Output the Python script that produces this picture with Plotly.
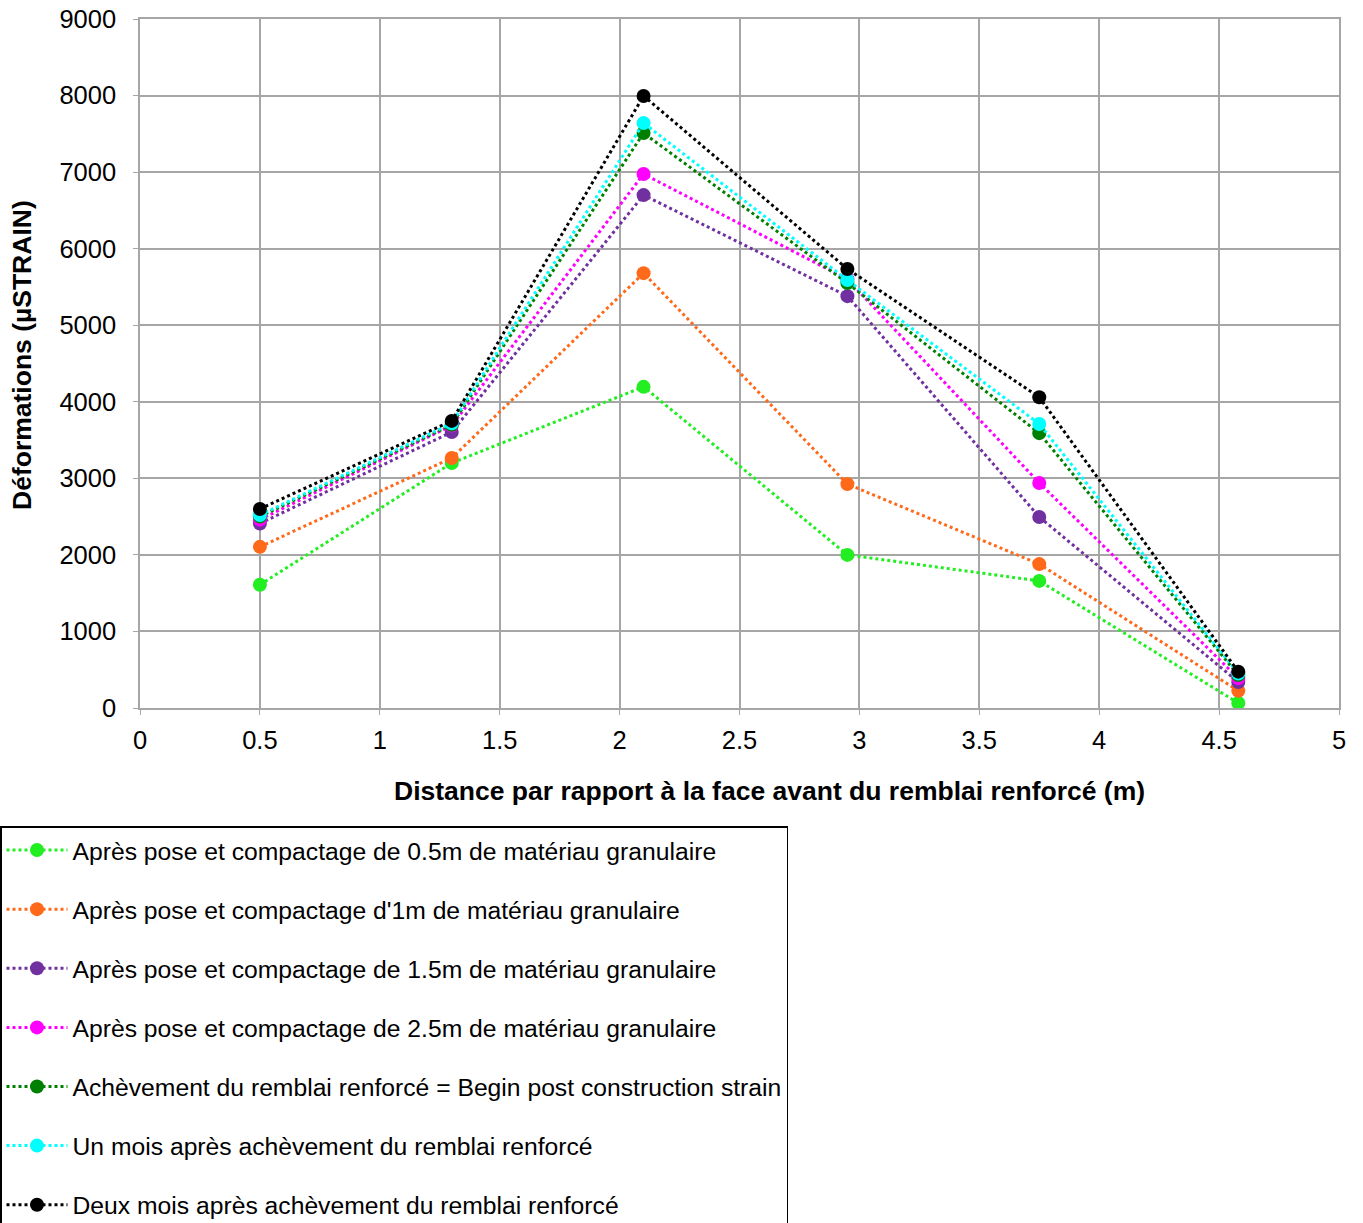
import plotly.graph_objects as go

x_dist = [0.5, 1.3, 2.1, 2.95, 3.75, 4.58]

series_names = [
    "Après pose et compactage de 0.5m de matériau granulaire",
    "Après pose et compactage d'1m de matériau granulaire",
    "Après pose et compactage de 1.5m de matériau granulaire",
    "Après pose et compactage de 2.5m de matériau granulaire",
    "Achèvement du remblai renforcé = Begin post construction strain",
    "Un mois après achèvement du remblai renforcé",
    "Deux mois après achèvement du remblai renforcé",
]

s_05m = [1610, 3200, 4195, 2000, 1660, 65]
s_1m = [2105, 3265, 5680, 2925, 1880, 225]
s_15m = [2410, 3605, 6700, 5380, 2495, 340]
s_25m = [2460, 3690, 6975, 5600, 2940, 390]
s_fin = [2500, 3700, 7510, 5550, 3590, 430]
s_1mois = [2520, 3720, 7640, 5590, 3710, 450]
s_2mois = [2600, 3750, 7995, 5735, 4060, 475]

series_values = [s_05m, s_1m, s_15m, s_25m, s_fin, s_1mois, s_2mois]
colors = ["#22ee22", "#ff6a1a", "#7030a0", "#ff00ff", "#008000", "#00ffff", "#000000"]

x_title = "Distance par rapport à la face avant du remblai renforcé (m)"
y_title = "Déformations (µSTRAIN)"

fig = go.Figure()
for i, (name, vals, col) in enumerate(zip(series_names, series_values, colors)):
    fig.add_trace(go.Scatter(
        x=x_dist, y=vals, name=name, mode="lines+markers",
        line=dict(color=col, width=3, dash="dot"),
        marker=dict(color=col, size=14),
        legendgroup=f"g{i}",
    ))

L, R, T, B = 140, 24, 19, 515
PW, PH = 1363 - L - R, 1223 - T - B

fig.update_layout(
    width=1363, height=1223,
    margin=dict(l=L, r=R, t=T, b=B, autoexpand=False),
    paper_bgcolor="white", plot_bgcolor="white",
    font=dict(family="Liberation Sans, Arial", size=24, color="black"),
    showlegend=True,
    legend=dict(
        x=-L / PW, xanchor="left", y=-(826 - T - PH) / PH,
        yanchor="top",
        bordercolor="black", borderwidth=1.5, bgcolor="white",
        font=dict(size=24.7), tracegroupgap=24, itemwidth=61,
    ),
    annotations=[
        dict(text=f"<b>{x_title}</b>", xref="paper", yref="paper",
             x=(769 - L) / PW, y=-(791 - T - PH) / PH, xanchor="center", yanchor="middle",
             showarrow=False, font=dict(size=26.5)),
        dict(text=f"<b>{y_title}</b>", xref="paper", yref="paper",
             x=(22 - L) / PW, y=(T + PH - 355) / PH, xanchor="center", yanchor="middle",
             textangle=-90, showarrow=False, font=dict(size=26.5)),
    ],
)
fig.update_xaxes(
    range=[0, 5], dtick=0.5, tick0=0, automargin=False,
    showgrid=True, gridcolor="#a6a6a6", gridwidth=1.5,
    showline=True, linecolor="#a6a6a6", linewidth=1.5, mirror=True,
    ticks="outside", tickcolor="#a6a6a6", ticklen=5,
    ticklabelstandoff=4,
    zeroline=False, tickfont=dict(size=25.5),
)
fig.update_yaxes(
    range=[0, 9000], dtick=1000, automargin=False,
    showgrid=True, gridcolor="#a6a6a6", gridwidth=1.5,
    showline=True, linecolor="#a6a6a6", linewidth=1.5, mirror=True,
    ticks="outside", tickcolor="#a6a6a6", ticklen=5,
    ticklabelstandoff=12,
    zeroline=False, tickfont=dict(size=25.5),
)

fig.write_html("out.html", config={"displayModeBar": False},
               post_script="document.body.style.margin='0';")
